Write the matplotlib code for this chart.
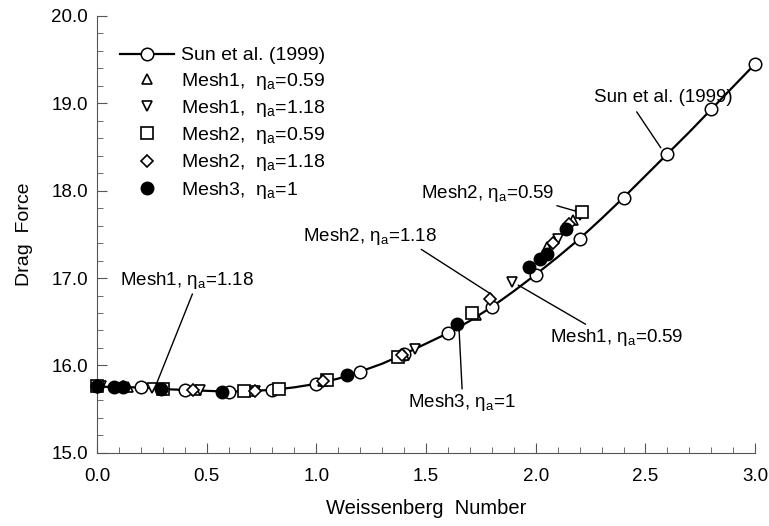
import numpy as np
import matplotlib.pyplot as plt
from matplotlib.ticker import MultipleLocator, FormatStrFormatter

plt.rcParams["font.family"] = ["Liberation Sans", "DejaVu Sans"]
plt.rcParams["mathtext.fontset"] = "custom"
plt.rcParams["mathtext.rm"] = "Liberation Sans"
plt.rcParams["mathtext.it"] = "Liberation Sans:italic"

########## DATA ##########
# Sun et al. (1999) curve
sun_x = [0.0, 0.1, 0.2, 0.3, 0.4, 0.5, 0.6, 0.7, 0.8, 0.9, 1.0, 1.1, 1.2, 1.3, 1.4,
         1.5, 1.6, 1.7, 1.8, 1.9, 2.0, 2.1, 2.2, 2.3, 2.4, 2.5, 2.6, 2.7, 2.8, 2.9, 3.0]
sun_f = [15.76, 15.75, 15.75, 15.73, 15.72, 15.71, 15.70, 15.71, 15.72, 15.75, 15.79,
         15.85, 15.93, 16.02, 16.13, 16.25, 16.37, 16.51, 16.67, 16.85, 17.04, 17.24,
         17.45, 17.68, 17.92, 18.17, 18.42, 18.67, 18.93, 19.19, 19.45]

mesh1_059_x = [0.0, 0.14, 0.45, 0.70, 1.03, 1.40, 1.73, 2.05, 2.17]
mesh1_059_f = [15.76, 15.75, 15.72, 15.71, 15.82, 16.12, 16.58, 17.36, 17.66]

mesh1_118_x = [0.02, 0.25, 0.47, 0.72, 1.05, 1.45, 1.89, 2.10, 2.20]
mesh1_118_f = [15.76, 15.74, 15.72, 15.71, 15.83, 16.19, 16.96, 17.45, 17.72]

mesh2_059_x = [0.0, 0.30, 0.67, 0.83, 1.05, 1.37, 1.71, 2.21]
mesh2_059_f = [15.76, 15.73, 15.71, 15.73, 15.83, 16.10, 16.60, 17.75]

mesh2_118_x = [0.12, 0.44, 0.72, 1.03, 1.39, 1.79, 2.08, 2.15]
mesh2_118_f = [15.75, 15.72, 15.71, 15.82, 16.12, 16.76, 17.40, 17.62]

mesh3_x = [0.0, 0.08, 0.12, 0.29, 0.57, 1.14, 1.64, 1.97, 2.02, 2.05, 2.14]
mesh3_f = [15.76, 15.75, 15.75, 15.73, 15.70, 15.89, 16.47, 17.13, 17.22, 17.28, 17.56]

eta = r"η$_\mathrm{a}$"
################################################

fig = plt.figure(figsize=(7.69, 5.26), dpi=100)
ax = fig.add_axes([0.126, 0.139, 0.856, 0.831])

ax.plot(sun_x, sun_f, "-o", color="black", lw=1.6, ms=9, mfc="white", mew=1.1,
        markevery=2, label="Sun et al. (1999)", clip_on=False, zorder=3)

mk = dict(ls="none", color="black", mfc="white", mew=1.2, clip_on=False, zorder=4)
ax.plot(mesh1_059_x, mesh1_059_f, marker="^", ms=7.5, label=f"Mesh1,  {eta}=0.59", **mk)
ax.plot(mesh1_118_x, mesh1_118_f, marker="v", ms=7.5, label=f"Mesh1,  {eta}=1.18", **mk)
ax.plot(mesh2_059_x, mesh2_059_f, marker="s", ms=8, label=f"Mesh2,  {eta}=0.59", **mk)
ax.plot(mesh2_118_x, mesh2_118_f, marker="D", ms=6, label=f"Mesh2,  {eta}=1.18", **mk)
ax.plot(mesh3_x, mesh3_f, ls="none", marker="o", ms=9, color="black", mfc="black",
        clip_on=False, zorder=4, label=f"Mesh3,  {eta}=1")


def leader(rx, ry, shrink=0):
    return dict(arrowstyle="-", color="black", lw=1.0, shrinkA=shrink, shrinkB=0,
                relpos=(rx, ry))


# annotations
an = dict(fontsize=13.5, ha="center", va="center")
ax.annotate("Sun et al. (1999)", xy=(2.57, 18.49), xytext=(2.58, 19.07),
            arrowprops=leader(0.28, 0.0, 3), **an)
ax.annotate(f"Mesh2, {eta}=0.59", xy=(2.19, 17.76), xytext=(1.78, 17.97),
            arrowprops=leader(0.97, 0.0), **an)
ax.annotate(f"Mesh2, {eta}=1.18", xy=(1.80, 16.81), xytext=(1.245, 17.48),
            arrowprops=leader(0.85, 0.0), **an)
ax.annotate(f"Mesh1, {eta}=0.59", xy=(1.92, 16.92), xytext=(2.37, 16.32),
            arrowprops=leader(0.3, 1.0), **an)
ax.annotate(f"Mesh3, {eta}=1", xy=(1.65, 16.44), xytext=(1.665, 15.58),
            arrowprops=leader(0.5, 1.0), **an)
ax.annotate(f"Mesh1, {eta}=1.18", xy=(0.27, 15.78), xytext=(0.41, 16.97),
            arrowprops=leader(0.55, 0.0), **an)

ax.set_xlim(0, 3.0)
ax.set_ylim(15.0, 20.0)
ax.xaxis.set_major_locator(MultipleLocator(0.5))
ax.xaxis.set_minor_locator(MultipleLocator(0.1))
ax.yaxis.set_major_locator(MultipleLocator(1.0))
ax.yaxis.set_minor_locator(MultipleLocator(0.2))
ax.xaxis.set_major_formatter(FormatStrFormatter("%.1f"))
ax.yaxis.set_major_formatter(FormatStrFormatter("%.1f"))
ax.tick_params(which="both", direction="in", labelsize=13.5, color="#555555")
ax.tick_params(which="major", length=7)
ax.tick_params(which="minor", length=4)
ax.tick_params(axis="x", which="major", pad=11)
ax.tick_params(axis="y", which="major", pad=6.5)

for side in ["top", "right"]:
    ax.spines[side].set_visible(False)
for side in ["left", "bottom"]:
    ax.spines[side].set_color("#555555")

ax.set_xlabel("Weissenberg  Number", fontsize=14.5, labelpad=10)
ax.set_ylabel("Drag  Force", fontsize=14, labelpad=13)

ax.legend(loc="upper left", bbox_to_anchor=(0.035, 0.929), frameon=False, fontsize=14,
          handlelength=2.8, labelspacing=0.32, borderaxespad=0, borderpad=0,
          handletextpad=0.35)

plt.savefig("out.png", dpi=100)
